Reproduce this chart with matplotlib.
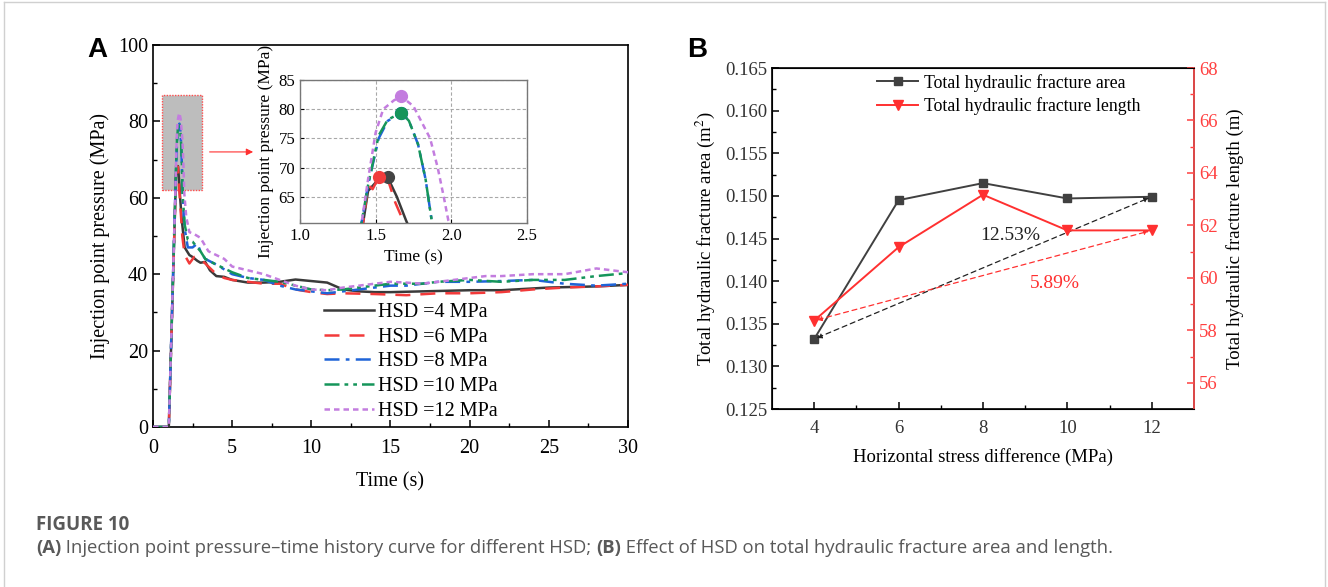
import numpy as np
import matplotlib
matplotlib.use("Agg")
import matplotlib.pyplot as plt
from matplotlib.patches import Rectangle
from matplotlib.lines import Line2D

plt.rcParams['font.family'] = ['Liberation Serif', 'DejaVu Serif']
plt.rcParams['mathtext.fontset'] = 'stix'
plt.rcParams['xtick.direction'] = 'in'
plt.rcParams['ytick.direction'] = 'in'

# --- (A) injection point pressure vs time, one curve per HSD ---
t_hsd4 = [0, 1.0, 1.42, 1.45, 1.52, 1.58, 1.64, 1.70, 1.80, 2.0, 2.3, 2.5, 2.8, 3.0, 3.3, 3.6,
          4.0, 4.5, 5.0, 6.0, 7.0, 8.0, 9.0, 10.0, 11.0, 12.0, 13.0, 14.0, 15.0, 17.0, 20.0,
          22.0, 25.0, 28.0, 30.0]
p_hsd4 = [0, 0, 61, 66, 68.0, 68.3, 65, 61, 55, 47, 45, 44.5, 43.5, 43, 43.2, 41,
          39.5, 39.3, 38.5, 37.8, 37.8, 38.0, 38.6, 38.2, 37.8, 36.0, 35.5, 35.3, 35.3, 35.5, 35.8,
          35.8, 36.5, 36.8, 37.2]

t_hsd6 = [0, 1.0, 1.42, 1.45, 1.48, 1.52, 1.58, 1.63, 1.68, 1.85, 2.0, 2.3, 2.6, 3.0, 3.5,
          4.0, 4.5, 5.0, 6.0, 7.0, 8.0, 9.0, 10.0, 11.0, 12.0, 14.0, 16.0, 18.0, 20.0, 22.0,
          24.0, 26.0, 28.0, 30.0]
p_hsd6 = [0, 0, 61, 67, 66.3, 68.3, 68.0, 64, 61, 50, 45, 42.8, 44.5, 44, 42,
          40, 39, 38.5, 38, 37.5, 37.5, 36, 35.3, 34.8, 35, 34.8, 34.5, 35, 35, 35.3,
          36, 36.5, 36.8, 37.2]

t_hsd8 = [0, 1.0, 1.41, 1.45, 1.52, 1.58, 1.67, 1.72, 1.78, 1.83, 1.87, 2.0, 2.2, 2.5, 2.8,
          3.0, 3.3, 4.0, 5.0, 6.0, 7.0, 8.0, 9.0, 10.0, 11.0, 12.0, 13.0, 14.0, 15.0, 16.0,
          17.0, 18.0, 20.0, 22.0, 24.0, 26.0, 28.0, 30.0]
p_hsd8 = [0, 0, 61, 67, 75, 78, 79.4, 78, 74, 68, 61, 52, 47, 47, 48,
          46, 44, 42.5, 40, 39, 38.5, 37, 36, 35.5, 35, 35.5, 36, 36.5, 37, 37,
          37.5, 38, 38, 38.2, 38.5, 37.5, 37, 37.5]

t_hsd10 = [0, 1.0, 1.41, 1.45, 1.52, 1.58, 1.67, 1.72, 1.78, 1.83, 1.87, 2.0, 2.2, 2.5, 2.8,
           3.0, 3.3, 4.0, 5.0, 6.0, 7.0, 8.0, 9.0, 10.0, 11.0, 12.0, 13.0, 14.0, 15.0, 16.0,
           17.0, 18.0, 20.0, 22.0, 24.0, 26.0, 28.0, 30.0]
p_hsd10 = [0, 0, 61, 67, 75.5, 78.2, 79.4, 78, 74, 68, 61, 53, 49, 48.5, 47,
           46, 44, 42.5, 40.5, 39, 38.5, 38, 37, 36, 35.8, 36, 36.5, 37, 37.5, 37.5,
           37.5, 38, 38.5, 38, 38.5, 38.5, 39.5, 40.3]

t_hsd12 = [0, 1.0, 1.41, 1.45, 1.50, 1.55, 1.62, 1.67, 1.75, 1.80, 1.86, 1.91, 1.95, 1.98, 2.1,
           2.3, 2.6, 3.0, 3.5, 4.5, 5.0, 6.0, 7.0, 8.0, 9.0, 10.0, 11.0, 12.0, 13.0, 14.0,
           15.0, 16.0, 17.0, 18.0, 19.0, 20.0, 21.0, 22.0, 24.0, 26.0, 28.0, 30.0]
p_hsd12 = [0, 0, 61, 68, 76, 80, 81.5, 82.2, 80.5, 78, 75, 70, 65, 61, 55,
           51, 50.5, 49.5, 46, 44, 42, 41, 40, 38.5, 37, 36, 35.8, 36.5, 37, 37.5,
           38, 37.8, 37.5, 38, 38.5, 39, 39.5, 39.5, 40, 40, 41.5, 40.5]

hsd_labels = ["HSD =4 MPa", "HSD =6 MPa", "HSD =8 MPa", "HSD =10 MPa", "HSD =12 MPa"]

# --- (B) fracture area / length vs horizontal stress difference ---
hsd = [4, 6, 8, 10, 12]
frac_area = [0.13321, 0.1495, 0.1515, 0.1497, 0.1499]
frac_length = [58.37, 61.17, 63.17, 61.81, 61.81]

curves = [
    (t_hsd4, p_hsd4, dict(color="#3a3a3a", ls="-", lw=1.8)),
    (t_hsd6, p_hsd6, dict(color="#f23a3a", ls=(0, (6, 4)), lw=1.8)),
    (t_hsd8, p_hsd8, dict(color="#1f64d8", ls=(0, (6, 2.5, 1.5, 2.5)), lw=1.8)),
    (t_hsd10, p_hsd10, dict(color="#15955a", ls=(0, (6, 2, 1.5, 2, 1.5, 2)), lw=1.8)),
    (t_hsd12, p_hsd12, dict(color="#c37ddf", ls=(0, (2.2, 1.6)), lw=1.8)),
]
peak_colors = ["#444444", "#f03c3c", "#1f64d8", "#15955a", "#c37ddf"]

fig = plt.figure(figsize=(13.28, 5.87), dpi=100)

# light page frame
for xs, ys in [([0.003, 0.998], [0.997, 0.997]), ([0.003, 0.003], [0.0, 0.997]),
               ([0.998, 0.998], [0.0, 0.997])]:
    fig.add_artist(Line2D(xs, ys, transform=fig.transFigure, color="#d0d0d0", lw=1))

axA = fig.add_axes([0.1152, 0.2726, 0.3577, 0.6508])
axA.add_patch(Rectangle((0.6, 62), 2.5, 25, facecolor="#bdbdbd", edgecolor="#ff4d4d",
                        ls=(0, (1, 1)), lw=1.0, zorder=1))
for (t, p, st), lab in zip(curves, hsd_labels):
    axA.plot(t, p, label=lab, zorder=3, **st)
axA.set_xlim(0, 30)
axA.set_ylim(0, 100)
axA.set_xticks(np.arange(0, 31, 5))
axA.set_xticks(np.arange(2.5, 30, 5), minor=True)
axA.set_yticks(np.arange(0, 101, 20))
axA.set_yticks(np.arange(10, 100, 20), minor=True)
axA.tick_params(labelsize=14.5, length=5, width=1.1)
axA.tick_params(axis="x", pad=9)
axA.tick_params(which="minor", length=3, width=1.0)
axA.tick_params(top=False, right=False)
for s in axA.spines.values():
    s.set_linewidth(1.2)
axA.set_xlabel("Time (s)", fontsize=14.5, labelpad=10)
axA.set_ylabel("Injection point pressure (MPa)", fontsize=14.5, labelpad=6)
axA.legend(loc="lower left", bbox_to_anchor=(0.343, -0.005), frameon=False, fontsize=14.5,
           handlelength=2.5, handletextpad=0.2, labelspacing=0.28, borderaxespad=0.0)
axA.annotate("", xy=(6.5, 72), xytext=(3.4, 72),
             arrowprops=dict(arrowstyle="-|>", color="#ff3030", lw=0.8, mutation_scale=10),
             zorder=4)
fig.text(0.073, 0.915, "A", fontsize=20, fontweight="bold", family="Liberation Sans",
         va="center", ha="center")

# zoomed inset around the pressure peaks
axI = fig.add_axes([0.2259, 0.6201, 0.1709, 0.2436])
for (t, p, st), c in zip(curves, peak_colors):
    axI.plot(t, p, zorder=3, **st)
    k = int(np.argmax(p))
    axI.plot(t[k], p[k], "o", color=c, ms=8.5, zorder=4)
axI.set_xlim(1.0, 2.5)
axI.set_ylim(60.5, 85)
axI.set_xticks([1.0, 1.5, 2.0, 2.5])
axI.set_yticks([65, 70, 75, 80, 85])
axI.grid(True, ls=(0, (3, 2)), color="#a8a8a8", lw=0.8)
axI.tick_params(labelsize=12, length=3)
for s in axI.spines.values():
    s.set_color("#777777")
    s.set_linewidth(1.0)
axI.set_xlabel("Time (s)", fontsize=12.5, labelpad=4)
axI.set_ylabel("Injection point pressure (MPa)", fontsize=12.5, labelpad=3)

# --- panel B ---
axB = fig.add_axes([0.5813, 0.3032, 0.3178, 0.5809])
axR = axB.twinx()
lnA, = axB.plot(hsd, frac_area, "-s", color="#404040", ms=6, lw=1.4,
                label="Total hydraulic fracture area", zorder=3)
lnL, = axR.plot(hsd, frac_length, "-v", color="#ff3030", ms=7, lw=1.4,
                label="Total hydraulic fracture length", zorder=3)
axB.set_xlim(3, 13)
axB.set_ylim(0.125, 0.165)
axR.set_ylim(55, 68)
axB.set_xticks(hsd)
axB.set_xticks([5, 7, 9, 11], minor=True)
axB.set_yticks(np.arange(0.125, 0.1651, 0.005))
axB.set_yticks(np.arange(0.1275, 0.165, 0.005), minor=True)
axB.set_yticklabels([f"{v:.3f}" for v in np.arange(0.125, 0.1651, 0.005)])
axR.set_yticks(np.arange(56, 69, 2))
axR.set_yticks(np.arange(57, 68, 2), minor=True)
axB.tick_params(labelsize=13.5, length=5, width=1.1, top=False, right=False,
                labelcolor="#333333")
axB.tick_params(which="minor", length=3, width=1.0, top=False, right=False)
axB.tick_params(axis="x", pad=8)
axR.tick_params(labelsize=13.5, length=5, width=1.1, colors="#ff4040")
axR.tick_params(which="minor", length=3, width=1.0, colors="#ff4040")
for s in axB.spines.values():
    s.set_linewidth(1.2)
axR.spines["right"].set_color("#ff5050")
axR.spines["right"].set_linewidth(1.2)
axB.set_xlabel("Horizontal stress difference (MPa)", fontsize=13.5, labelpad=8)
axB.set_ylabel("Total hydraulic fracture area (m$^2$)", fontsize=13.5, labelpad=6)
axR.set_ylabel("Total hydraulic fracture length (m)", fontsize=13.5, labelpad=6)

# growth arrows from HSD=4 to HSD=12
axB.annotate("", xy=(hsd[-1], frac_area[-1]), xytext=(hsd[0], frac_area[0]),
             arrowprops=dict(arrowstyle="<|-|>", color="#222222", lw=0.9, ls=(0, (4, 3)),
                             mutation_scale=7, shrinkA=2, shrinkB=2))
axR.annotate("", xy=(hsd[-1], frac_length[-1]), xytext=(hsd[0], frac_length[0]),
             arrowprops=dict(arrowstyle="<|-|>", color="#ff3030", lw=0.9, ls=(0, (4, 3)),
                             mutation_scale=7, shrinkA=2, shrinkB=2))
area_gain = (frac_area[-1] - frac_area[0]) / frac_area[0] * 100
len_gain = (frac_length[-1] - frac_length[0]) / frac_length[0] * 100
axB.text(8.65, 0.1454, f"{area_gain:.2f}%", fontsize=14, ha="center", va="center",
         color="#222222")
axR.text(9.7, 59.78, f"{len_gain:.2f}%", fontsize=14, ha="center", va="center",
         color="#ff3030")
axB.legend([lnA, lnL], [lnA.get_label(), lnL.get_label()], loc="upper left",
           bbox_to_anchor=(0.212, 1.03), frameon=False, fontsize=12.8, handlelength=2.3,
           handletextpad=0.3, labelspacing=0.3)
fig.text(0.525, 0.915, "B", fontsize=20, fontweight="bold", family="Liberation Sans",
         va="center", ha="center")

# caption, bold panel tags inline
fig.text(0.027, 0.106, "FIGURE 10", fontsize=13.5, fontweight="bold", family="Open Sans",
         color="#595959", va="center")
renderer = fig.canvas.get_renderer()
cap_x = 0.027
for piece, weight in [("(A)", "bold"),
                      (" Injection point pressure–time history curve for different HSD; ", "normal"),
                      ("(B)", "bold"),
                      (" Effect of HSD on total hydraulic fracture area and length.", "normal")]:
    txt = fig.text(cap_x, 0.066, piece, fontsize=13.3, fontweight=weight, family="Open Sans",
                   color="#595959", va="center")
    cap_x = txt.get_window_extent(renderer).x1 / fig.bbox.width

fig.savefig("out.png", dpi=100)
